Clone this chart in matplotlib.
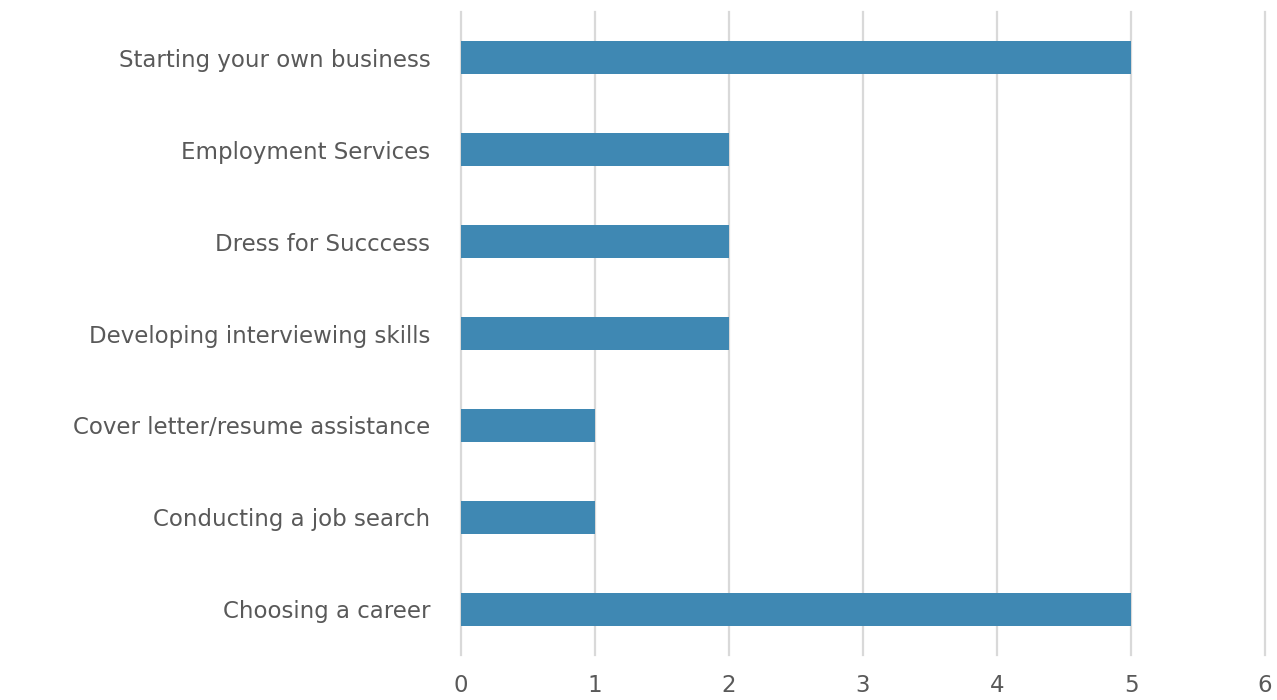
import matplotlib.pyplot as plt

categories = [
    "Choosing a career",
    "Conducting a job search",
    "Cover letter/resume assistance",
    "Developing interviewing skills",
    "Dress for Succcess",
    "Employment Services",
    "Starting your own business",
]
values = [5, 1, 1, 2, 2, 2, 5]
x_ticks = [0, 1, 2, 3, 4, 5, 6]

plt.rcParams["font.family"] = ["DejaVu Sans"]

fig = plt.figure(figsize=(12.77, 7.0), dpi=100)
# plot area spans x 461..1265 px, y 12..655 px
ax = fig.add_axes([461 / 1277, 1 - 655 / 700, (1265 - 461) / 1277, (655 - 12) / 700])

ax.barh(range(len(categories)), values, height=0.36, color="#3F88B3", zorder=3)
ax.set_xlim(0, 6)
ax.set_ylim(-0.5, len(categories) - 0.5)
ax.set_xticks(x_ticks)
ax.set_yticks(range(len(categories)))
ax.set_yticklabels(categories)
ax.grid(axis="x", color="#D9D9D9", linewidth=1.6, zorder=0)
for gl in ax.get_xgridlines():
    gl.set_clip_on(False)
for s in ax.spines.values():
    s.set_visible(False)
ax.tick_params(axis="both", length=0, labelsize=16.5, colors="#595959")
ax.tick_params(axis="y", pad=22)
ax.tick_params(axis="x", pad=14)

fig.savefig("out.png", dpi=100)
